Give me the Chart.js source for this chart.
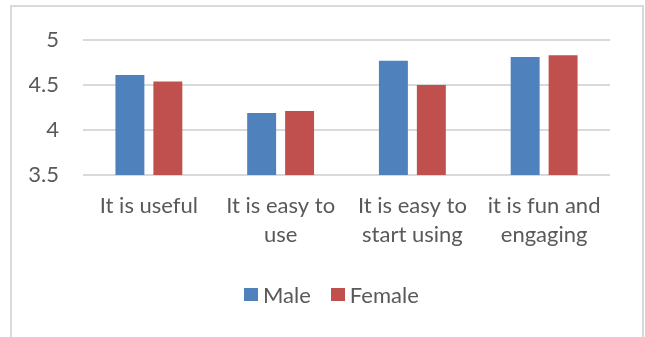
<!DOCTYPE html>
<html>
<head>
<meta charset="utf-8">
<script src="https://cdn.jsdelivr.net/npm/chart.js@4"></script>
<style>
  html, body { margin: 0; padding: 0; background: #fff; }
  #wrap { position: relative; width: 645px; height: 337px; overflow: hidden; }
  #frame {
    position: absolute; left: 10px; top: 5px; width: 634px; height: 400px;
    border: 2px solid #d9d9d9; box-sizing: border-box;
  }
  #myChart { position: absolute; left: 0; top: 0; }
  #legend {
    position: absolute; left: 244px; top: 281px;
    display: flex; align-items: center;
    font: 22px Lato, sans-serif;
    color: #595959;
  }
  #legend .item { display: flex; align-items: center; margin-right: 20px; }
  #legend .box { width: 14px; height: 13px; margin-right: 5px; }
</style>
</head>
<body>
<div id="wrap">
  <div id="frame"></div>
  <canvas id="myChart" width="645" height="337"></canvas>
  <div id="legend"></div>
</div>
<script>
const categories = [
  ["It is useful"],
  ["It is easy to", "use"],
  ["It is easy to", "start using"],
  ["it is fun and", "engaging"],
];
const male = [4.61, 4.19, 4.77, 4.81];
const female = [4.54, 4.21, 4.5, 4.83];
const seriesNames = ["Male", "Female"];
const seriesColors = ["#4f81bd", "#c0504d"];

const fontFamily = "Lato, sans-serif";

const chart = new Chart("myChart", {
  type: "bar",
  data: {
    labels: categories,
    datasets: [
      { label: seriesNames[0], data: male, backgroundColor: seriesColors[0] },
      { label: seriesNames[1], data: female, backgroundColor: seriesColors[1] },
    ],
  },
  options: {
    responsive: false,
    animation: false,
    events: [],
    categoryPercentage: 0.576,
    barPercentage: 0.763,
    layout: { padding: { left: 29, right: 35, top: 40, bottom: 80 } },
    plugins: {
      legend: { display: false },
      tooltip: { enabled: false },
    },
    scales: {
      x: {
        grid: { display: false, drawTicks: false },
        border: { display: false },
        afterFit: (scale) => { scale.height = 82; },
        ticks: {
          color: "#595959",
          font: { family: fontFamily, size: 22, lineHeight: 1.3 },
          padding: 17,
          maxRotation: 0,
          autoSkip: false,
        },
      },
      y: {
        min: 3.5,
        max: 5,
        grid: { color: "#d9d9d9", lineWidth: 2, drawTicks: false },
        border: { display: false },
        afterFit: (scale) => { scale.width = 54; },
        ticks: {
          stepSize: 0.5,
          color: "#595959",
          font: { family: fontFamily, size: 22 },
          padding: 24,
          callback: (v) => String(+v.toFixed(1)),
        },
      },
    },
  },
});

// legend built from the datasets
const legend = document.getElementById("legend");
chart.data.datasets.forEach((ds) => {
  const item = document.createElement("span");
  item.className = "item";
  const box = document.createElement("span");
  box.className = "box";
  box.style.background = ds.backgroundColor;
  item.appendChild(box);
  item.appendChild(document.createTextNode(ds.label));
  legend.appendChild(item);
});
</script>
</body>
</html>
